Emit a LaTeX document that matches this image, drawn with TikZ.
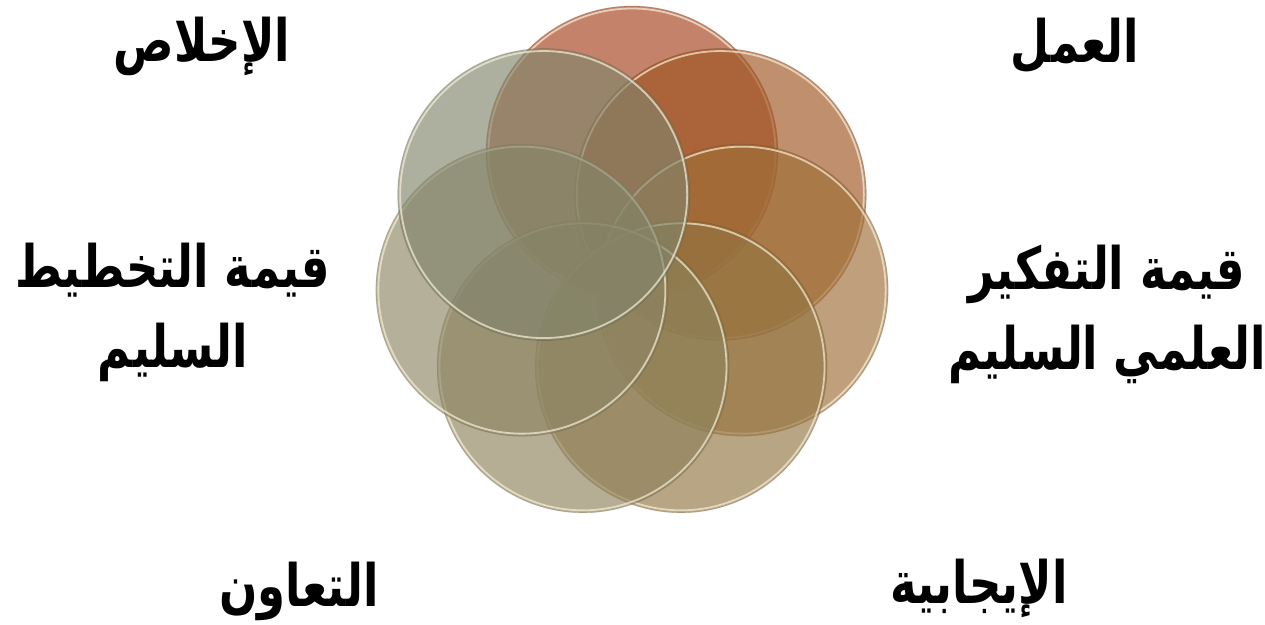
\documentclass[tikz,border=0pt]{standalone}
\usepackage{fontspec}
\usepackage{xcolor}
\usepackage{tikz}
\usetikzlibrary{positioning}
\TeXXeTstate=1
\newfontfamily\arabicfont[Script=Arabic]{DejaVu Sans}
% disc colours (before transparency)
\definecolor{discA}{RGB}{164,63,26}
\definecolor{discB}{RGB}{158,84,32}
\definecolor{discC}{RGB}{158,109,53}
\definecolor{discD}{RGB}{146,117,66}
\definecolor{discE}{RGB}{141,129,90}
\definecolor{discF}{RGB}{141,133,100}
\definecolor{discG}{RGB}{129,132,107}
\definecolor{rimcol}{RGB}{246,238,214}
% one right-to-left line, a bit taller than the font draws it
\newcommand{\arline}[1]{\scalebox{1}[1.3]{\beginR #1\endR}}
\tikzset{
  lbl/.style={font=\arabicfont\bfseries\fontsize{45}{80}\selectfont, align=center, text=black, inner sep=0pt},
}

\begin{document}
\begin{tikzpicture}[x=1pt, y=-1pt]
\useasboundingbox (0,0) rectangle (1265,624);
% ring of seven see-through discs round the middle
\def\cx{632}\def\cy{265}\def\rr{113}\def\dr{146pt}
\foreach \a/\c in {90/discA,38.57/discB,-12.86/discC,-64.29/discD,-115.71/discE,-167.14/discF,141.43/discG}{
  \fill[\c, fill opacity=0.65] ({\cx+\rr*cos(\a)},{\cy-\rr*sin(\a)}) circle[radius=\dr];
  \draw[black, opacity=0.12, line width=0.8pt] ({\cx+\rr*cos(\a)},{\cy-\rr*sin(\a)}) circle[radius=\dr];
  \draw[rimcol, opacity=0.7, line width=1.8pt] ({\cx+\rr*cos(\a)},{\cy-\rr*sin(\a)}) circle[radius=\dr-2.5pt];
}
% labels round the ring
\node[lbl] (work) at (1075,46) {\arline{العمل}};
\node[lbl] (sincere) at (202,46) {\arline{الإخلاص}};
\node[lbl] (plan) at (173,312) {\arline{قيمة التخطيط}\\\arline{السليم}};
\node[lbl] (think) at (1107,314) {\arline{قيمة التفكير}\\\arline{العلمي السليم}};
\node[lbl] (coop) at (299,591) {\arline{التعاون}};
\node[lbl] (posit) at (979,588) {\arline{الإيجابية}};
\end{tikzpicture}
\end{document}
